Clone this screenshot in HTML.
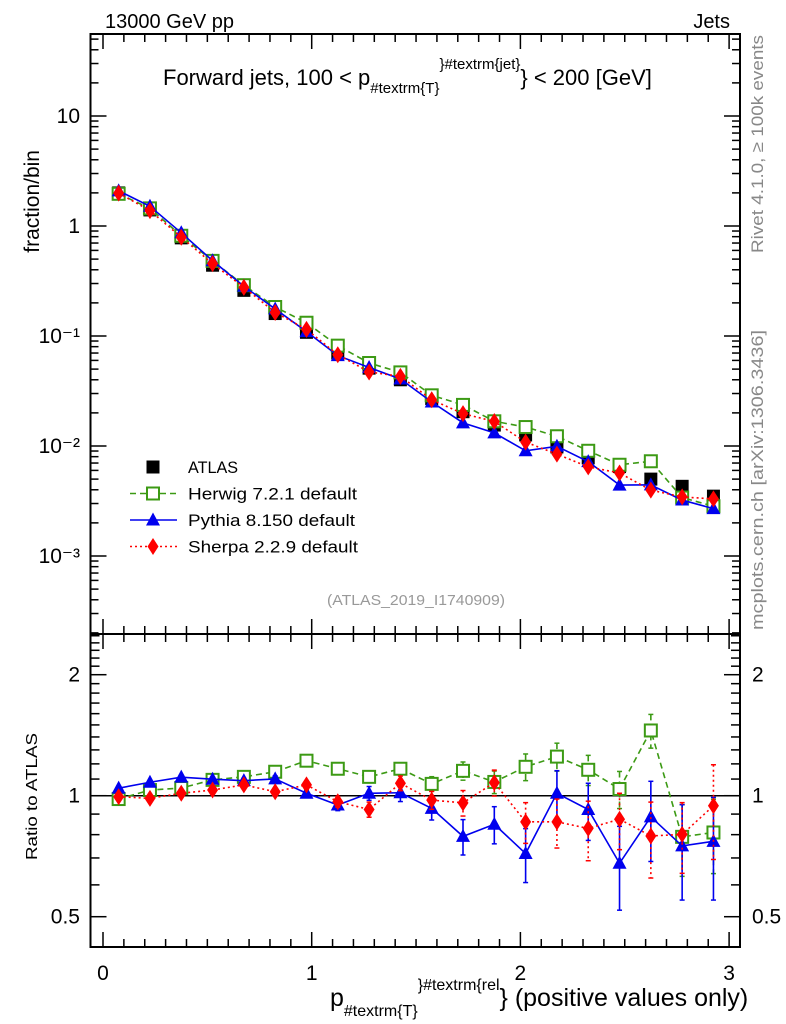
<!DOCTYPE html>
<html><head><meta charset="utf-8"><style>
html,body{margin:0;padding:0;background:#fff}
svg{display:block;font-family:"Liberation Sans",sans-serif}
</style></head><body>
<svg id="c" width="786" height="1024" xmlns="http://www.w3.org/2000/svg">
<g id="plot"></g>
<text x="105" y="28" font-size="20">13000 GeV pp</text>
<text x="730" y="28" font-size="20" text-anchor="end">Jets</text>
<text x="163" y="85" font-size="22">Forward jets, 100 &lt; p<tspan font-size="15" dy="8">#textrm{T}</tspan><tspan font-size="15" dy="-24">}#textrm{jet}</tspan><tspan dy="16" font-size="22">} &lt; 200 [GeV]</tspan></text>
<text transform="translate(39,150) rotate(-90)" font-size="21" text-anchor="end">fraction/bin</text>
<text transform="translate(37,860) rotate(-90)" font-size="16" textLength="127" lengthAdjust="spacingAndGlyphs">Ratio to ATLAS</text>
<text transform="translate(763,253) rotate(-90)" font-size="17" fill="#888" textLength="218" lengthAdjust="spacingAndGlyphs">Rivet 4.1.0, ≥ 100k events</text>
<text transform="translate(763,630) rotate(-90)" font-size="17" fill="#888" textLength="300" lengthAdjust="spacingAndGlyphs">mcplots.cern.ch [arXiv:1306.3436]</text>
<text x="327" y="605" font-size="15" fill="#999" textLength="178" lengthAdjust="spacingAndGlyphs">(ATLAS_2019_I1740909)</text>
<text x="330" y="1006" font-size="25">p<tspan font-size="16" dy="10">#textrm{T}</tspan><tspan font-size="16" dy="-26">}#textrm{rel</tspan><tspan font-size="25" dy="16">} (positive values only)</tspan></text>
</svg>
<script>
const xCenters=[0.075,0.225,0.375,0.525,0.675,0.825,0.975,1.125,1.275,1.425,1.575,1.725,1.875,2.025,2.175,2.325,2.475,2.625,2.775,2.925];
const atlasVals=[2.0,1.4,0.78,0.44,0.26,0.16,0.108,0.07,0.051,0.04,0.027,0.0205,0.0155,0.0126,0.0098,0.0078,0.0065,0.005,0.0043,0.0035];
const herwigRatio=[0.981,1.033,1.045,1.095,1.114,1.147,1.222,1.167,1.114,1.167,1.070,1.153,1.082,1.180,1.251,1.160,1.039,1.453,0.79,0.81];
const herwigErr=[0.01,0.01,0.012,0.015,0.015,0.02,0.025,0.03,0.035,0.04,0.045,0.06,0.07,0.09,0.1,0.1,0.11,0.14,0.16,0.17];
const pythiaRatio=[1.044,1.080,1.112,1.099,1.090,1.101,1.014,0.948,1.014,1.017,0.930,0.792,0.849,0.718,1.014,0.924,0.679,0.886,0.75,0.77];
const pythiaErr=[0.01,0.01,0.012,0.012,0.015,0.02,0.02,0.03,0.04,0.05,0.06,0.08,0.09,0.11,0.14,0.15,0.16,0.2,0.2,0.22];
const sherpaRatio=[0.994,0.985,1.014,1.033,1.064,1.023,1.064,0.966,0.924,1.074,0.975,0.960,1.078,0.861,0.861,0.829,0.874,0.794,0.801,0.944];
const sherpaErr=[0.01,0.01,0.012,0.015,0.015,0.02,0.025,0.03,0.04,0.045,0.05,0.07,0.08,0.1,0.12,0.14,0.14,0.17,0.16,0.25];
const xTickLabels=["0","1","2","3"];
const yTickLabels=["10","1","10⁻¹","10⁻²","10⁻³"];
const ratioTickLabels=["0.5","1","2"];

const NS="http://www.w3.org/2000/svg";
const L=90.5,R=740,T=34,M=634,B=947;
const X=v=>103+208.7*v;
const Y=v=>226-110*Math.log10(v);
const YR=v=>795.7-121*Math.log2(v);
const g=document.getElementById('plot');
function mk(tag,a,parent){const e=document.createElementNS(NS,tag);for(const k in a)e.setAttribute(k,a[k]);(parent||g).appendChild(e);return e;}

let f=mk('rect',{x:L,y:T,width:R-L,height:M-T,fill:'none',stroke:'#000','stroke-width':2});


f=mk('rect',{x:L,y:M,width:R-L,height:B-M,fill:'none',stroke:'#000','stroke-width':2});



for(let i=0;i<=30;i++){
  const v=i/10;const maj=i%10==0;const len=maj?15:8;const x=X(v);
  for(const [y0,d] of [[T,1],[M,-1],[M,1],[B,-1]]) mk('line',{x1:x,x2:x,y1:y0,y2:y0+d*len,stroke:'#000','stroke-width':1.5});
}
xTickLabels.forEach((t,i)=>{const e=mk('text',{x:X(i),y:980,'font-size':21,'text-anchor':'middle'});e.textContent=t;

});

for(let d=-4;d<=1;d++){for(let k=1;k<10;k++){const v=k*Math.pow(10,d);const y=Y(v);if(y<T||y>M)continue;const len=k==1?16:8;
  mk('line',{x1:L,x2:L+len,y1:y,y2:y,stroke:'#000','stroke-width':1.5});mk('line',{x1:R,x2:R-len,y1:y,y2:y,stroke:'#000','stroke-width':1.5});}}
yTickLabels.forEach((t,i)=>{const e=mk('text',{x:80,y:Y(Math.pow(10,1-i))+7,'font-size':21,'text-anchor':'end'});e.textContent=t;

});

for(let i=4;i<=25;i++){const v=i/10;const y=YR(v);if(y<M||y>B)continue;const len=(v==0.5||v==1||v==2)?16:9;
  mk('line',{x1:L,x2:L+len,y1:y,y2:y,stroke:'#000','stroke-width':1.5});mk('line',{x1:R,x2:R-len,y1:y,y2:y,stroke:'#000','stroke-width':1.5});}
ratioTickLabels.forEach(t=>{const v=parseFloat(t);
 let e=mk('text',{x:80,y:YR(v)+7,'font-size':21,'text-anchor':'end'});e.textContent=t;
 
 
 e=mk('text',{x:752,y:YR(v)+7,'font-size':21});e.textContent=t;
 
 });
mk('line',{x1:L,x2:R,y1:YR(1),y2:YR(1),stroke:'#000','stroke-width':1.5});

function marker(kind,x,y,color){
  if(kind=='sq')return mk('rect',{x:x-6.5,y:y-6.5,width:13,height:13,fill:'#000'});
  if(kind=='osq')return mk('rect',{x:x-6,y:y-6,width:12,height:12,fill:'#fff',stroke:color,'stroke-width':2});
  if(kind=='tri')return mk('polygon',{points:`${x},${y-7.5} ${x-7},${y+5.5} ${x+7},${y+5.5}`,fill:color});
  return mk('polygon',{points:`${x},${y-8.5} ${x-5.5},${y} ${x},${y+8.5} ${x+5.5},${y}`,fill:color});
}
const series=[
 {name:'herwig',ratio:herwigRatio,err:herwigErr,color:'#3c9a14',kind:'osq',dash:'6,4'},
 {name:'pythia',ratio:pythiaRatio,err:pythiaErr,color:'#0000ee',kind:'tri',dash:''},
 {name:'sherpa',ratio:sherpaRatio,err:sherpaErr,color:'#ff0000',kind:'dia',dash:'2,3'}];

atlasVals.forEach((v,i)=>{const m=marker('sq',X(xCenters[i]),Y(v));

});

series.forEach(s=>{
  const top=s.ratio.map((r,i)=>[X(xCenters[i]),Y(r*atlasVals[i])]);
  const bot=s.ratio.map((r,i)=>[X(xCenters[i]),YR(r)]);
  for(const pts of [top,bot]){
    const p=mk('polyline',{points:pts.map(p=>p.join(',')).join(' '),fill:'none',stroke:s.color,'stroke-width':1.6,'stroke-dasharray':s.dash});
    
    
  }
  s.ratio.forEach((r,i)=>{
    const x=X(xCenters[i]);const y1=YR(r+s.err[i]),y2=YR(Math.max(0.05,r-s.err[i]));
    const eb=mk('line',{x1:x,x2:x,y1:y1,y2:y2,stroke:s.color,'stroke-width':1.6,'stroke-dasharray':s.dash});
    
    
    mk('line',{x1:x-2.5,x2:x+2.5,y1:y1,y2:y1,stroke:s.color,'stroke-width':1.5});
    mk('line',{x1:x-2.5,x2:x+2.5,y1:y2,y2:y2,stroke:s.color,'stroke-width':1.5});
  });
  top.forEach(p=>{const m=marker(s.kind,p[0],p[1],s.color);
  
  });
  bot.forEach(p=>{const m=marker(s.kind,p[0],p[1],s.color);
  
  });
});

const leg=[['ATLAS','sq','#000',null,50],['Herwig 7.2.1 default','osq','#3c9a14','6,4',169],['Pythia 8.150 default','tri','#0000ee','',167],['Sherpa 2.2.9 default','dia','#ff0000','2,3',170]];
leg.forEach((l,i)=>{const y=467+26.5*i;
  if(l[3]!==null)mk('line',{x1:130,x2:177,y1:y,y2:y,stroke:l[2],'stroke-width':1.6,'stroke-dasharray':l[3]});
  marker(l[1],153,y,l[2]);
  const t=mk('text',{x:188,y:y+6,'font-size':17,textLength:l[4],lengthAdjust:'spacingAndGlyphs'});t.textContent=l[0];
  
  
});
</script>
</body></html>
